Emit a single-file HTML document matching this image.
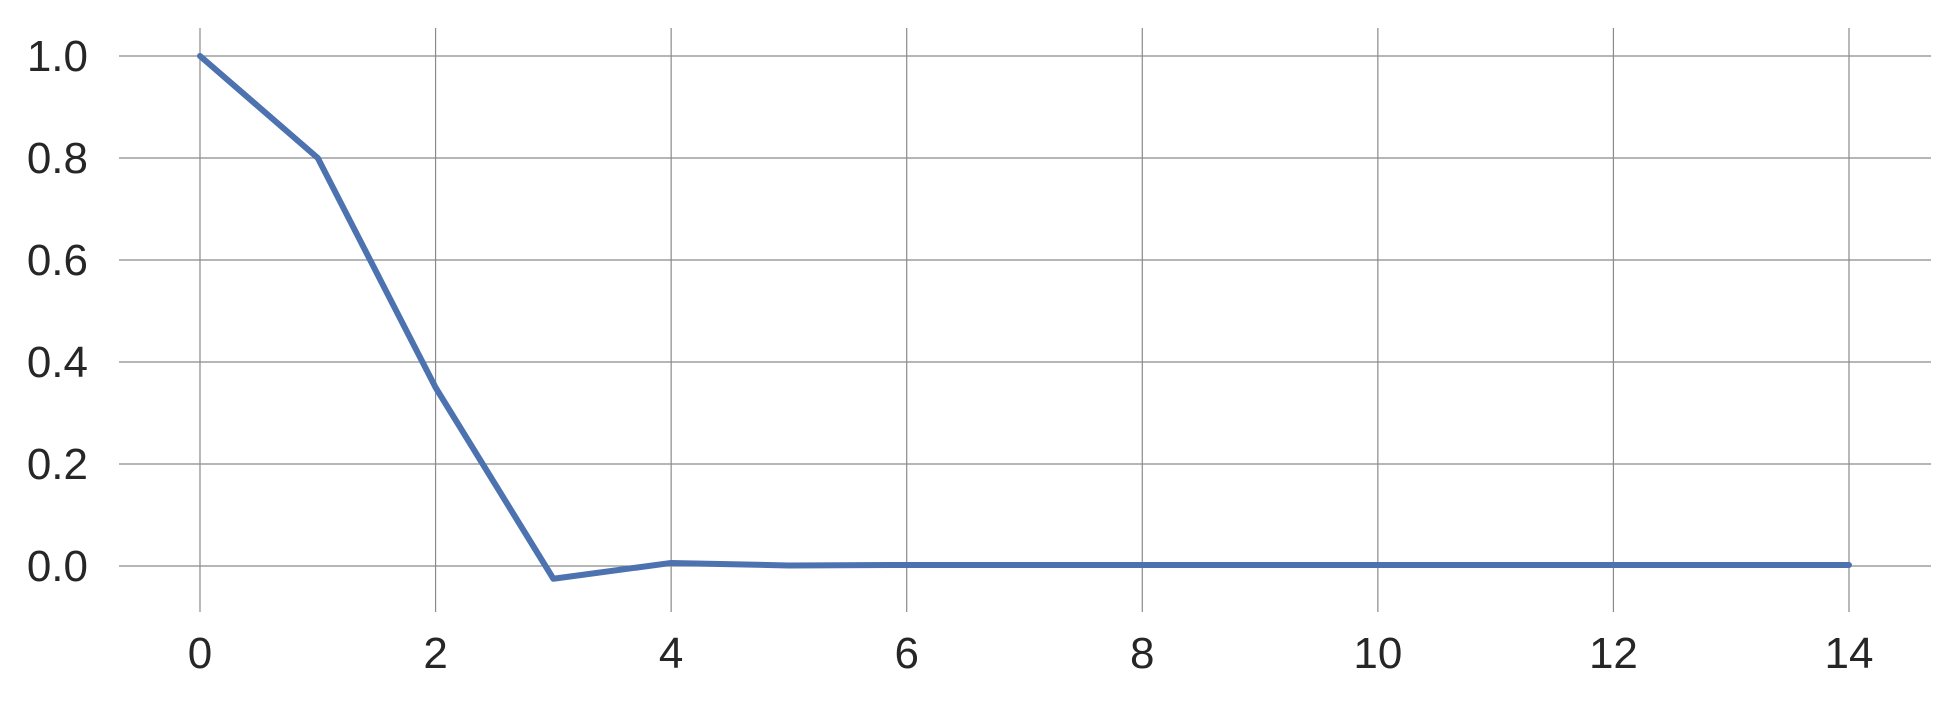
<!DOCTYPE html>
<html><head><meta charset="utf-8"><style>
html,body{margin:0;padding:0;background:#fff;}
svg{display:block;font-family:"Liberation Sans",Arial,sans-serif;}
</style></head><body>
<svg id="chart" width="1960" height="704" viewBox="0 0 1960 704">
<g id="grid"></g>
<g id="ylabels"></g>
<g id="xlabels"></g>
<g id="series"></g>
</svg>
<script>
const xValues = [0,1,2,3,4,5,6,7,8,9,10,11,12,13,14];
const yValues = [1.0,0.80,0.35,-0.025,0.006,0.001,0.002,0.002,0.002,0.002,0.002,0.002,0.002,0.002,0.002];
const xTicks = [0,2,4,6,8,10,12,14];
const yTicks = [0.0,0.2,0.4,0.6,0.8,1.0];
const yTickLabels = ["0.0","0.2","0.4","0.6","0.8","1.0"];

const NS="http://www.w3.org/2000/svg";
function sx(v){return 200 + (v-0)*(1849-200)/14;}
function sy(v){return 566 - v*(566-56);}
function mk(tag,attrs,parent){const e=document.createElementNS(NS,tag);for(const k in attrs)e.setAttribute(k,attrs[k]);parent.appendChild(e);return e;}
const grid=document.getElementById('grid');
const yl=document.getElementById('ylabels');
const xl=document.getElementById('xlabels');
const series=document.getElementById('series');
yTicks.forEach((t,i)=>{
  const l=mk('line',{x1:119,x2:1931,y1:sy(t),y2:sy(t),stroke:'#8a8a8a','stroke-width':1.2},grid);
  
  
  const tx=mk('text',{x:88,y:sy(t)+15,'text-anchor':'end','font-size':44,fill:'#262626'},yl);
  tx.textContent=yTickLabels[i];
  
  
});
xTicks.forEach(t=>{
  const l=mk('line',{x1:sx(t),x2:sx(t),y1:28,y2:612,stroke:'#8a8a8a','stroke-width':1.2},grid);
  
  
  const tx=mk('text',{x:sx(t),y:668,'text-anchor':'middle','font-size':44,fill:'#262626'},xl);
  tx.textContent=String(t);
  
  
});
const pts=xValues.map((x,i)=>sx(x)+','+sy(yValues[i])).join(' ');
const pl=mk('polyline',{points:pts,fill:'none',stroke:'#4c72b0','stroke-width':6,'stroke-linejoin':'round','stroke-linecap':'round'},series);


</script>
</body></html>
